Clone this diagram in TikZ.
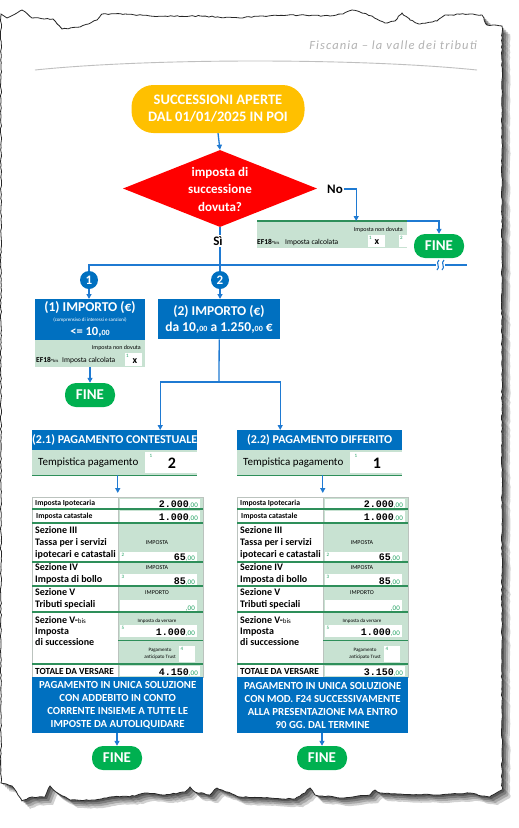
\documentclass[tikz,border=0pt]{standalone}
\usepackage{fontspec}
\setmainfont{Carlito}
\newfontfamily\monofont{Liberation Mono}
\newfontfamily\headfont[LetterSpace=9]{Carlito}
\usetikzlibrary{arrows.meta,shapes.geometric,decorations.pathmorphing,calc}

\definecolor{boxblue}{HTML}{0070C0}
\definecolor{lineblue}{HTML}{1F7AD2}
\definecolor{finegreen}{HTML}{00B050}
\definecolor{bandgreen}{HTML}{C8E2D2}
\definecolor{darkgreen}{HTML}{2E8F5A}
\definecolor{numgreen}{HTML}{1FA060}
\definecolor{startyellow}{HTML}{FFC000}
\definecolor{questred}{HTML}{FF0000}

\newcommand\fsz[2]{\fontsize{#1}{#2}\selectfont}
\newcommand\cents{{\fsz{7}{7}\color{numgreen},00}}
\newcommand\amount[1]{{\monofont\bfseries\fsz{10}{10}#1}\cents}

\tikzset{
  conn/.style={draw=lineblue, line width=1.3pt, -{Triangle[length=5pt,width=5pt]}},
  wire/.style={draw=lineblue, line width=1.3pt},
  paper/.style={fill=white, draw=black!85, line width=0.8pt,
    decorate, decoration={random steps, segment length=3pt, amplitude=0.6pt},
    preaction={fill=black, opacity=.18, transform canvas={shift={(8pt,-8pt)}}},
    preaction={fill=black, opacity=.2, transform canvas={shift={(6pt,-6pt)}}},
    preaction={fill=black, opacity=.25, transform canvas={shift={(4pt,-4pt)}}},
    preaction={fill=black, opacity=.3, transform canvas={shift={(2pt,-2pt)}}}},
  startbox/.style={fill=startyellow, text=white, rounded corners=22pt, minimum width=173,
    minimum height=48, inner sep=0pt, align=center, font=\bfseries\fsz{14.5}{17}},
  questshape/.style={diamond, fill=questred, minimum width=194, minimum height=77,
    inner sep=0pt, aspect=2.5},
  questtxt/.style={text=white, inner sep=0pt, align=center, font=\bfseries\fsz{13}{17.5}},
  label/.style={inner sep=1pt, font=\bfseries\fsz{13}{13}},
  bluebox/.style={fill=boxblue, text=white, inner sep=0pt, font=\bfseries},
  boxtxt/.style={text=white, inner sep=0pt, font=\bfseries\fsz{13.5}{13.5}},
  finebox/.style={fill=finegreen, text=white, rounded corners=11pt, minimum width=50,
    minimum height=24, inner sep=0pt, font=\bfseries\fsz{15}{15}},
  band/.style={fill=bandgreen, inner sep=0pt},
  whitecell/.style={fill=white, inner sep=0pt},
  tiny/.style={inner sep=0pt, font=\fsz{6}{6.5}},
  supnum/.style={inner sep=0pt, text=numgreen, font=\fsz{5}{5}},
  eflbl/.style={inner sep=0pt, anchor=west, font=\bfseries\fsz{7.5}{7.5}},
  rowlbl/.style={inner sep=0pt, anchor=west, align=left, font=\bfseries\fsz{10}{12}},
  smalllbl/.style={inner sep=0pt, anchor=west, font=\bfseries\fsz{7.7}{7.7}},
  amt/.style={inner sep=0pt, anchor=base east},
  numdot/.style={circle, fill=boxblue, text=white, minimum size=18, inner sep=0pt,
    font=\bfseries\fsz{13}{13}},
}

\begin{document}
\begin{tikzpicture}[x=1pt,y=-1pt]
\useasboundingbox (0,0) rectangle (519,828);

% torn sheet
\pgfmathsetseed{11}
\path[paper] (1,14) -- (7,18) -- (22,10) -- (32,18) -- (53,19) -- (62,29) -- (80,27)
  -- (97,20) -- (102,14) -- (125,14) -- (150,16) -- (200,16) -- (240,18) -- (260,16)
  -- (300,15) -- (330,16) -- (343,14) -- (352,10) -- (360,12) -- (372,16) -- (385,23)
  -- (395,21) -- (402,13) -- (410,20) -- (420,24) -- (437,21) -- (445,15) -- (470,14)
  -- (482,15) -- (487,25) -- (502,26) -- (502,790) -- (490,797) -- (482,796)
  -- (470,793) -- (440,795) -- (400,794) -- (380,793) -- (375,790) -- (370,795)
  -- (340,798) -- (315,795) -- (310,788) -- (305,793) -- (295,799) -- (270,798)
  -- (240,797) -- (222,790) -- (217,788) -- (210,795) -- (195,792) -- (190,787)
  -- (185,792) -- (165,795) -- (145,793) -- (135,796) -- (110,797) -- (95,800)
  -- (70,800) -- (56,792) -- (50,786) -- (45,797) -- (32,797) -- (22,801) -- (18,795)
  -- (12,786) -- (1,783) -- cycle;

\node[anchor=base east, inner sep=0pt, text=black!30, font=\headfont\itshape\fsz{12.5}{12.5}] (head)
  at (477,49) {Fiscania – la valle dei tributi};
\draw[black!25, line width=0.9pt] (35,70) .. controls (150,58) and (360,58) .. (477,70);

% start and question
\node[startbox] (start) at (218,109) {SUCCESSIONI APERTE\\DAL 01/01/2025 IN POI};
\node[questshape] (quest) at (220,188.5) {};
\node[questtxt] (questtxt) at (220,189) {imposta di\\successione\\dovuta?};
\draw[conn] (start.south) -- (quest.north);

% branch No
\node[label] (no) at (335,189) {No};
\node[band, minimum width=150, minimum height=27, anchor=north west] (noform) at (257,221) {};
\draw[darkgreen, line width=1.5pt] (noform.north west) -- (noform.north east);
\node[tiny, anchor=east] (nd0) at (403,230) {Imposta non dovuta};
\node[eflbl] (ef0) at (257,242) {EF18-{\fsz{4.5}{4.5}\mdseries bis}};
\node[tiny, anchor=west, font=\fsz{7.5}{7.5}] (ic0) at (285,242) {Imposta calcolata};
\fill[white] (368,235) rectangle (385,247);
\fill[white] (399,235) rectangle (407,247);
\node[supnum] (s01) at (370.5,237.5) {1};
\node[inner sep=0pt, font=\bfseries\fsz{10}{10}] (x0) at (377,242) {x};
\node[supnum] (s02) at (401.5,237.5) {2};
\node[finebox] (fine0) at (439,246) {FINE};
\draw[conn] (no.east) -| ([xshift=24]noform.north);
\draw[conn] (noform.north east) -| (fine0.north);

% branch Si
\node[numdot] (num1) at (89,280) {1};
\node[numdot] (num2) at (220,280) {2};
\coordinate (brkL) at (436,265);
\coordinate (brkR) at (445,265);
\coordinate (jR) at (467,265);
\draw[wire] (quest.south) -- (num2.north);
\draw[wire] (num1.north) |- (brkL);
\draw[wire] (brkR) -- (jR);
\draw[lineblue, line width=1.1pt] (439,260) .. controls (435,263) and (441,267) .. (437,270);
\draw[lineblue, line width=1.1pt] (444,260) .. controls (440,263) and (446,267) .. (442,270);
\node[label, fill=white] (si) at (218,241) {Sì};

% amount 1
\node[bluebox, minimum width=110, minimum height=41, anchor=north west] (imp1) at (35,299) {};
\node[boxtxt] (imp1a) at (90,308) {(1) IMPORTO (€)};
\node[boxtxt, font=\fsz{5}{5}] (imp1b) at (90,320) {(comprensivo di interessi e sanzioni)};
\node[boxtxt, font=\bfseries\fsz{12.5}{12.5}] (imp1c) at (90,332) {<= 10,{\fsz{8}{8}00}};
\draw[conn] (num1.south) -- (num1.south |- imp1.north);
\node[band, minimum width=110, minimum height=27, anchor=north west] (form1) at (35,340) {};
\node[tiny, anchor=east] (nd1) at (141,348) {Imposta non dovuta};
\node[eflbl] (ef1) at (36,360) {EF18-{\fsz{4.5}{4.5}\mdseries bis}};
\node[tiny, anchor=west, font=\fsz{7.5}{7.5}] (ic1) at (62,360) {Imposta calcolata};
\fill[white] (125,353) rectangle (142,366);
\node[supnum] (s11) at (127.5,356) {1};
\node[inner sep=0pt, font=\bfseries\fsz{10}{10}] (x1) at (135,361) {x};
\node[finebox] (fine1) at (90,395) {FINE};
\draw[conn] (fine1.north |- form1.south) -- (fine1.north);

% amount 2
\node[bluebox, minimum width=122, minimum height=40, anchor=north west] (imp2) at (158,299) {};
\node[boxtxt] (imp2a) at (219,312) {(2) IMPORTO (€)};
\node[boxtxt] (imp2b) at (219,328) {da 10,{\fsz{8}{8}00} a 1.250,{\fsz{8}{8}00} €};
\draw[conn] (num2.south) -- (num2.south |- imp2.north);

% payment columns
\foreach \c/\x/\title/\code/\tot/\payA/\payB/\payC/\payD in {
  A/32/{(2.1) PAGAMENTO CONTESTUALE}/2/4.150/{PAGAMENTO IN UNICA SOLUZIONE}/{CON ADDEBITO IN CONTO}/{CORRENTE INSIEME A TUTTE LE}/{IMPOSTE DA AUTOLIQUIDARE},
  B/237/{(2.2) PAGAMENTO DIFFERITO}/1/3.150/{PAGAMENTO IN UNICA SOLUZIONE}/{CON MOD. F24 SUCCESSIVAMENTE}/{ALLA PRESENTAZIONE MA ENTRO}/{90 GG. DAL TERMINE}}{
  \node[bluebox, font=\bfseries\fsz{12}{12}, minimum width=165, minimum height=20, anchor=north west] (hd\c) at (\x,430) {\title};
  \node[band, minimum width=165, minimum height=25, anchor=north west] (tmp\c) at (\x,450) {};
  \draw[darkgreen, line width=1.5pt] (tmp\c.south west) -- (tmp\c.south east);
  \node[whitecell, minimum width=52, minimum height=21, anchor=north east] (tmpv\c) at (\x+165,452) {};
  \node[inner sep=0pt, anchor=west, font=\fsz{11}{11}] (tmpl\c) at (\x+6,463) {Tempistica pagamento};
  \node[supnum] (tmps\c) at (\x+119,456) {1};
  \node[inner sep=0pt, font=\bfseries\fsz{16}{16}] (tmpc\c) at (\x+140,463) {\code};
  % form table
  \fill[bandgreen] (\x+86,497) rectangle (\x+171,677);
  \fill[white] (\x+88,498.5) rectangle (\x+168,508);
  \fill[white] (\x+88,510.5) rectangle (\x+168,522);
  \fill[white] (\x+88,552) rectangle (\x+165,561);
  \fill[white] (\x+88,574) rectangle (\x+165,585);
  \fill[white] (\x+88,600) rectangle (\x+165,611);
  \fill[white] (\x+88,625) rectangle (\x+165,637);
  \fill[white] (\x+147,646) rectangle (\x+163,662);
  \fill[white] (\x+88,665.5) rectangle (\x+168,676);
  \node[draw=bandgreen!60!black!50, line width=0.5pt, minimum width=171, minimum height=180,
    anchor=north west, inner sep=0pt] (tab\c) at (\x,497) {};
  \draw[bandgreen!60!black!50, line width=0.5pt] (\x+86,497) -- (\x+86,677);
  \foreach \yy in {509,523,562,586,612,664}
    \draw[darkgreen, line width=1.3pt] (\x,\yy) -- (\x+171,\yy);
  \draw[darkgreen, line width=0.6pt] (\x+86,640) -- (\x+171,640);
  \node[smalllbl] (ipo\c) at (\x+3,503) {Imposta Ipotecaria};
  \node[smalllbl] (cat\c) at (\x+4,516) {Imposta catastale};
  \node[rowlbl] (s3\c) at (\x+3,543) {Sezione III\\Tassa per i servizi\\ipotecari e catastali};
  \node[rowlbl] (s4\c) at (\x+3,574) {Sezione IV\\Imposta di bollo};
  \node[rowlbl] (s5\c) at (\x+3,599) {Sezione V\\Tributi speciali};
  \node[rowlbl, font=\bfseries\fsz{10}{11}] (s6\c) at (\x+3,631) {Sezione V-{\fsz{7}{7}\mdseries bis}\\Imposta\\di successione};
  \node[rowlbl, font=\bfseries\fsz{9.3}{9.3}] (tot\c) at (\x+3,671) {TOTALE DA VERSARE};
  \node[amt] (v1\c) at (\x+166,507) {\amount{2.000}};
  \node[amt] (v2\c) at (\x+166,520) {\amount{1.000}};
  \node[tiny] (h3\c) at (\x+125,543) {IMPOSTA};
  \node[supnum] (n3\c) at (\x+91,555) {2};
  \node[amt] (v3\c) at (\x+163,560) {\amount{65}};
  \node[tiny] (h4\c) at (\x+125,568) {IMPOSTA};
  \node[supnum] (n4\c) at (\x+91,577) {3};
  \node[amt] (v4\c) at (\x+163,584) {\amount{85}};
  \node[tiny] (h5\c) at (\x+125,593) {IMPORTO};
  \node[amt] (v5\c) at (\x+163,610) {\cents};
  \node[tiny, font=\fsz{5}{5}] (h6\c) at (\x+125,621) {Imposta da versare};
  \node[supnum] (n6\c) at (\x+91,628) {5};
  \node[amt] (v6\c) at (\x+163,635.5) {\amount{1.000}};
  \node[tiny, align=center, font=\fsz{5}{6.5}] (tr\c) at (\x+128,654) {Pagamento\\anticipato Trust};
  \node[supnum] (n7\c) at (\x+150,649) {4};
  \node[amt] (vt\c) at (\x+166,675) {\amount{\tot}};
  \draw[conn, shorten >=4pt] (tab\c.north |- tmp\c.south) -- (tab\c.north);
  % payment mode and end
  \node[bluebox, font=\bfseries\fsz{10.8}{13}, align=center, minimum width=171, minimum height=56,
    anchor=north west] (pay\c) at (\x,677) {\payA\\\payB\\\payC\\\payD};
  \node[finebox] (fine\c) at (\x+85,758) {FINE};
  \draw[conn] (fine\c.north |- pay\c.south) -- (fine\c.north);
}

\coordinate (split) at (219,382);
\draw[wire] (imp2.south) -- (split);
\draw[conn] (split) -| ([xshift=45.5]hdA.north);
\draw[conn] (split) -| ([xshift=-39.5]hdB.north);
\end{tikzpicture}
\end{document}
